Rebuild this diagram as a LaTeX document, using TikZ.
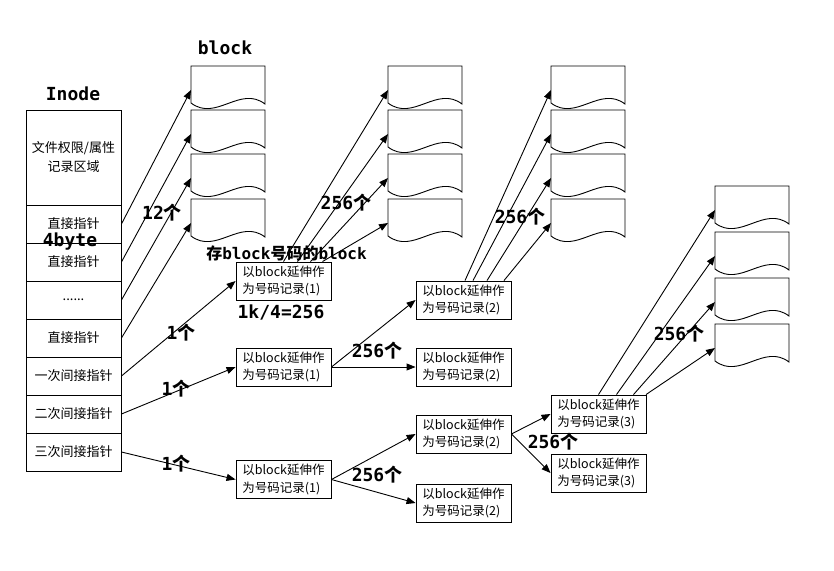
\documentclass[tikz,border=0pt]{standalone}
\usepackage{fontspec}
\setmainfont{Noto Sans CJK SC}
\newfontfamily\monob{DejaVu Sans Mono}
\usetikzlibrary{arrows.meta,calc}
\tikzset{
  blkanchor/.style={minimum width=74pt, minimum height=48pt, inner sep=0pt, outer sep=0pt},
  blkline/.style={draw, line width=0.9pt},
  irow/.style={draw, line width=0.9pt, minimum width=95pt, minimum height=38pt, inner sep=0pt, align=center, font=\fontsize{13}{19}\selectfont},
  recbox/.style={draw, line width=0.9pt, minimum width=95pt, minimum height=38pt, inner sep=0pt, align=left, font=\fontsize{12.5}{17.5}\selectfont},
  lbl/.style={inner sep=0pt, font=\fontsize{18}{21}\selectfont\bfseries},
  arr/.style={draw, line width=0.9pt, -{Triangle[length=9pt,width=7pt]}},
}
\newcommand\docblk[3]{%
  \node[blkanchor] (#1) at ({#2+37},{#3+24}) {};
  \draw[blkline] (#2,#3) -- ({#2+74},#3) -- ({#2+74},{#3+38}) .. controls ({#2+49},{#3+19}) and ({#2+25},{#3+56}) .. (#2,{#3+37}) -- cycle;}
\begin{document}
\begin{tikzpicture}[x=1pt,y=-1pt]
\useasboundingbox[fill=white] (0,0) rectangle (834,570);

% Inode table
\node[irow, minimum height=95pt] (r0) at (73.5,157.5) {文件权限/属性\\记录区域};
\node[irow] (r1) at (73.5,224) {直接指针};
\node[irow] (r2) at (73.5,262) {直接指针};
\node[irow] (r3) at (73.5,300) {......};
\node[irow] (r4) at (73.5,338) {直接指针};
\node[irow] (r5) at (73.5,376) {一次间接指针};
\node[irow] (r6) at (73.5,414) {二次间接指针};
\node[irow] (r7) at (73.5,452) {三次间接指针};

% data blocks
\docblk{b11}{191}{66}
\docblk{b12}{191}{110}
\docblk{b13}{191}{154}
\docblk{b14}{191}{199}
\docblk{b21}{388}{66}
\docblk{b22}{388}{110}
\docblk{b23}{388}{154}
\docblk{b24}{388}{199}
\docblk{b31}{551}{66}
\docblk{b32}{551}{110}
\docblk{b33}{551}{154}
\docblk{b34}{551}{199}
\docblk{b41}{715}{186}
\docblk{b42}{715}{232}
\docblk{b43}{715}{278}
\docblk{b44}{715}{324}

% number-record blocks
\node[recbox] (A) at (283.5,281) {以block延伸作\\为号码记录(1)};
\node[recbox] (B) at (283.5,367) {以block延伸作\\为号码记录(1)};
\node[recbox] (C) at (283.5,479.5) {以block延伸作\\为号码记录(1)};
\node[recbox] (D) at (463.5,300) {以block延伸作\\为号码记录(2)};
\node[recbox] (E) at (463.5,367) {以block延伸作\\为号码记录(2)};
\node[recbox] (F) at (463.5,434) {以block延伸作\\为号码记录(2)};
\node[recbox] (G) at (463.5,503) {以block延伸作\\为号码记录(2)};
\node[recbox] (H) at (598.5,414) {以block延伸作\\为号码记录(3)};
\node[recbox] (I) at (598.5,473) {以block延伸作\\为号码记录(3)};

% direct pointers
\draw[arr] (r1.east) -- (b11.west);
\draw[arr] (r2.east) -- (b12.west);
\draw[arr] (r3.east) -- (b13.west);
\draw[arr] (r4.east) -- (b14.west);
% indirect pointers
\draw[arr] (r5.east) -- (A.west);
\draw[arr] (r6.east) -- (B.west);
\draw[arr] (r7.east) -- (C.west);
% single indirect
\draw[arr] (A.north) -- (b21.west);
\draw[arr] ($(A.north)+(14,0)$) -- (b22.west);
\draw[arr] ($(A.north)+(27,0)$) -- (b23.west);
\draw[arr] ($(A.north)+(39,0)$) -- (b24.west);
% double indirect
\draw[arr] (B.east) -- (D.west);
\draw[arr] (B.east) -- (E.west);
\draw[arr] ($(D.north)+(1.5,0)$) -- (b31.west);
\draw[arr] ($(D.north)+(9.5,0)$) -- (b32.west);
\draw[arr] ($(D.north)+(23.5,0)$) -- (b33.west);
\draw[arr] ($(D.north)+(40.5,0)$) -- (b34.west);
% triple indirect
\draw[arr] (C.east) -- (F.west);
\draw[arr] (C.east) -- (G.west);
\draw[arr] (F.east) -- (H.west);
\draw[arr] (F.east) -- (I.west);
\draw[arr] (H.north) -- (b41.west);
\draw[arr] ($(H.north)+(18,0)$) -- (b42.west);
\draw[arr] ($(H.north)+(35,0)$) -- (b43.west);
\draw[arr] ($(H.north)+(47.5,0)$) -- (b44.west);

% labels
\node[lbl] (tblock) at (225,48) {\monob block};
\node[lbl] (tinode) at (73,94) {\monob Inode};
\node[lbl] (t4b) at (70,242) {\monob 4byte};
\node[lbl] (t12) at (162,213) {{\monob 12}个};
\node[lbl] (t1a) at (181,333) {{\monob 1}个};
\node[lbl] (t1b) at (176,389) {{\monob 1}个};
\node[lbl] (t1c) at (176,464) {{\monob 1}个};
\node[lbl, font=\fontsize{16}{19}\selectfont\bfseries] (tstore) at (286.5,253) {存{\monob block}号码的{\monob block}};
\node[lbl] (tk) at (281,312) {\monob 1k/4=256};
\node[lbl] (n1) at (346,203) {{\monob 256}个};
\node[lbl] (n2) at (520,217) {{\monob 256}个};
\node[lbl] (n3) at (377,351) {{\monob 256}个};
\node[lbl] (n4) at (377,475) {{\monob 256}个};
\node[lbl] (n5) at (553,442) {{\monob 256}个};
\node[lbl] (n6) at (679,334) {{\monob 256}个};
\end{tikzpicture}
\end{document}
